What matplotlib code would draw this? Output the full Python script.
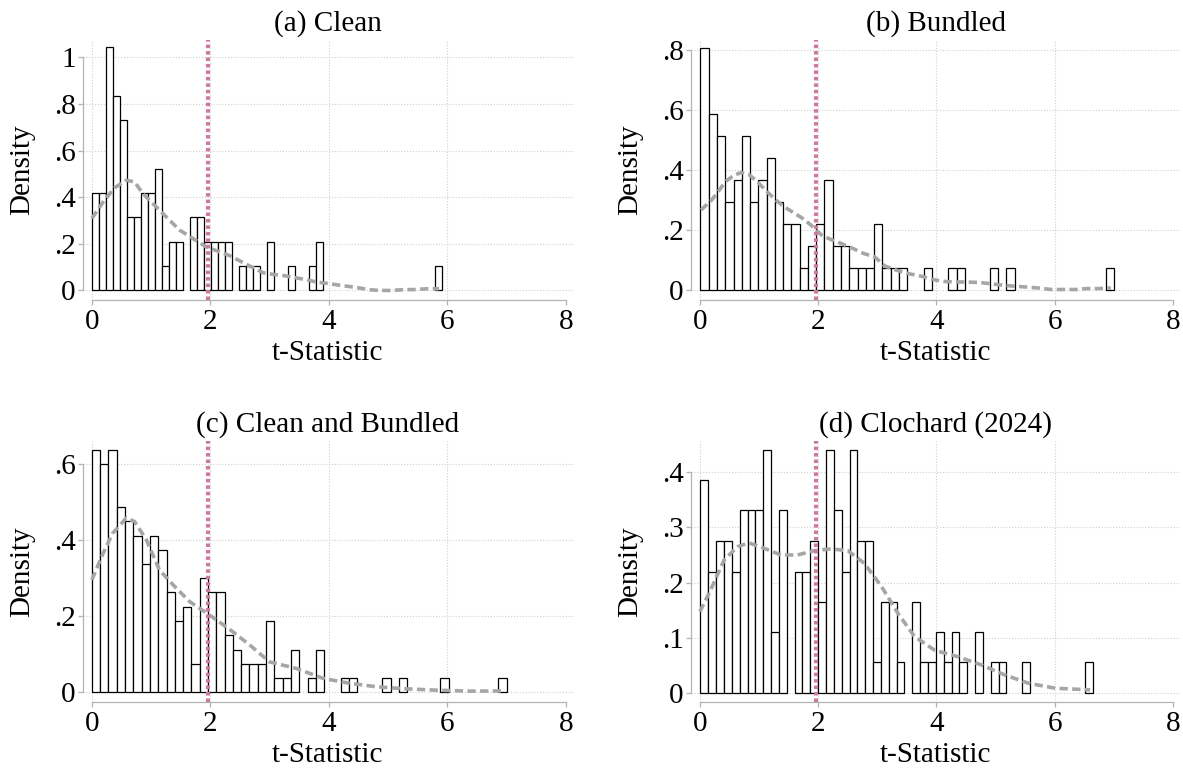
import numpy as np
import matplotlib
matplotlib.use("Agg")
import matplotlib.pyplot as plt

plt.rcParams['font.family'] = ['Liberation Serif', 'DejaVu Serif']

# ---------------- data ----------------
titles = ["(a) Clean", "(b) Bundled", "(c) Clean and Bundled", "(d) Clochard (2024)"]
xlabel = "t-Statistic"
ylabel = "Density"
xticks = [0, 2, 4, 6, 8]
critical_t = 1.96

# histogram: first bin edge, bin width, densities per bin
start_a, width_a = 0.0, 0.1181
dens_a = [0.418, 0.418, 1.045, 0.836, 0.732, 0.314, 0.314, 0.418, 0.418, 0.523,
          0.105, 0.209, 0.209, 0.0, 0.314, 0.314, 0.209, 0.209, 0.209, 0.209,
          0.0, 0.105, 0.105, 0.105, 0.0, 0.209, 0.0, 0.0, 0.105, 0.0,
          0.0, 0.105, 0.209, 0.0, 0.0, 0.0, 0.0, 0.0, 0.0, 0.0,
          0.0, 0.0, 0.0, 0.0, 0.0, 0.0, 0.0, 0.0, 0.0, 0.105]

start_b, width_b = 0.01, 0.1398
dens_b = [0.809, 0.588, 0.515, 0.294, 0.368, 0.515, 0.294, 0.368, 0.441, 0.294,
          0.221, 0.221, 0.074, 0.147, 0.221, 0.368, 0.147, 0.147, 0.074, 0.074,
          0.074, 0.221, 0.074, 0.074, 0.074, 0.0, 0.0, 0.074, 0.0, 0.0,
          0.074, 0.074, 0.0, 0.0, 0.0, 0.074, 0.0, 0.074, 0.0, 0.0,
          0.0, 0.0, 0.0, 0.0, 0.0, 0.0, 0.0, 0.0, 0.0, 0.074]

start_c, width_c = 0.0, 0.14
dens_c = [0.636, 0.598, 0.636, 0.486, 0.449, 0.411, 0.337, 0.411, 0.374, 0.262,
          0.187, 0.224, 0.075, 0.299, 0.262, 0.262, 0.150, 0.112, 0.075, 0.075,
          0.075, 0.187, 0.037, 0.037, 0.112, 0.0, 0.037, 0.112, 0.0, 0.0,
          0.037, 0.037, 0.0, 0.0, 0.0, 0.037, 0.0, 0.037, 0.0, 0.0,
          0.0, 0.0, 0.037, 0.0, 0.0, 0.0, 0.0, 0.0, 0.0, 0.037]

start_d, width_d = 0.01, 0.1327
dens_d = [0.386, 0.220, 0.276, 0.276, 0.220, 0.331, 0.331, 0.331, 0.441, 0.110,
          0.331, 0.0, 0.220, 0.220, 0.276, 0.165, 0.441, 0.331, 0.220, 0.441,
          0.276, 0.276, 0.055, 0.165, 0.165, 0.055, 0.0, 0.165, 0.055, 0.055,
          0.110, 0.055, 0.110, 0.055, 0.0, 0.110, 0.0, 0.055, 0.055, 0.0,
          0.0, 0.055, 0.0, 0.0, 0.0, 0.0, 0.0, 0.0, 0.0, 0.055]

# kernel density curves
kde_a_x = [0.0, 0.19, 0.38, 0.58, 0.72, 0.86, 1.14, 1.48, 1.93, 2.32, 2.67, 2.89, 3.06,
           3.23, 3.45, 3.62, 3.79, 4.01, 4.22, 4.43, 4.69, 4.87, 5.03, 5.25, 5.45, 5.64, 5.86]
kde_a_y = [0.309, 0.38, 0.44, 0.473, 0.466, 0.416, 0.345, 0.259, 0.187, 0.150, 0.104, 0.076,
           0.069, 0.064, 0.054, 0.046, 0.036, 0.029, 0.021, 0.014, 0.003, 0.0, 0.0, 0.003,
           0.004, 0.007, 0.007]

kde_b_x = [0.02, 0.19, 0.30, 0.43, 0.58, 0.71, 0.83, 0.97, 1.11, 1.25, 1.42, 1.56, 1.73,
           1.87, 2.06, 2.21, 2.38, 2.55, 2.77, 2.96, 3.13, 3.33, 3.52, 3.73, 3.92, 4.12,
           4.31, 4.51, 4.74, 4.93, 5.13, 5.32, 5.53, 5.72, 5.94, 6.15, 6.37, 6.54, 6.73, 6.95]
kde_b_y = [0.268, 0.299, 0.326, 0.362, 0.384, 0.393, 0.386, 0.362, 0.334, 0.307, 0.279,
           0.262, 0.241, 0.219, 0.184, 0.170, 0.157, 0.143, 0.123, 0.111, 0.081, 0.067,
           0.056, 0.048, 0.037, 0.030, 0.028, 0.028, 0.026, 0.022, 0.017, 0.014, 0.011,
           0.008, 0.003, 0.003, 0.003, 0.006, 0.006, 0.008]

kde_c_x = [0.0, 0.19, 0.35, 0.58, 0.72, 0.92, 1.14, 1.37, 1.65, 1.985, 2.32, 2.66, 3.0,
           3.45, 3.9, 4.35, 4.80, 5.25, 5.81, 6.37, 6.93]
kde_c_y = [0.295, 0.365, 0.417, 0.457, 0.448, 0.40, 0.321, 0.282, 0.238, 0.203, 0.166,
           0.125, 0.08, 0.063, 0.037, 0.024, 0.015, 0.010, 0.006, 0.0035, 0.004]

kde_d_x = [0.0, 0.18, 0.41, 0.635, 0.83, 1.09, 1.37, 1.65, 1.94, 2.22, 2.5, 2.78, 3.07,
           3.35, 3.63, 3.97, 4.37, 4.77, 5.16, 5.56, 6.01, 6.6]
kde_d_y = [0.147, 0.186, 0.241, 0.265, 0.272, 0.262, 0.25, 0.25, 0.258, 0.261, 0.258,
           0.235, 0.193, 0.144, 0.102, 0.077, 0.065, 0.05, 0.032, 0.017, 0.008, 0.005]

yticks_a = [0, 0.2, 0.4, 0.6, 0.8, 1.0]
ylabels_a = ["0", ".2", ".4", ".6", ".8", "1"]
yticks_b = [0, 0.2, 0.4, 0.6, 0.8]
ylabels_b = ["0", ".2", ".4", ".6", ".8"]
yticks_c = [0, 0.2, 0.4, 0.6]
ylabels_c = ["0", ".2", ".4", ".6"]
yticks_d = [0, 0.1, 0.2, 0.3, 0.4]
ylabels_d = ["0", ".1", ".2", ".3", ".4"]

# ---------------- style ----------------
W, H = 1183, 772
FS = 21
AXIS_GRAY = '#b3b3b3'
GRID_GRAY = '#cfcfcf'
KDE_GRAY = '#a6a6a6'
PINK = '#cc79a7'

fig = plt.figure(figsize=(W / 100, H / 100), dpi=100)

def px_axes(left, top, right, bottom):
    return fig.add_axes([left / W, 1 - bottom / H, (right - left) / W, (bottom - top) / H])

panels = [
    dict(rect=(83, 40, 573, 300), start=start_a, width=width_a, dens=dens_a,
         kx=kde_a_x, ky=kde_a_y, yt=yticks_a, yl=ylabels_a, ylim=(-0.041, 1.075)),
    dict(rect=(691, 40, 1180, 300), start=start_b, width=width_b, dens=dens_b,
         kx=kde_b_x, ky=kde_b_y, yt=yticks_b, yl=ylabels_b, ylim=(-0.032, 0.834)),
    dict(rect=(83, 441, 573, 702), start=start_c, width=width_c, dens=dens_c,
         kx=kde_c_x, ky=kde_c_y, yt=yticks_c, yl=ylabels_c, ylim=(-0.025, 0.659)),
    dict(rect=(691, 441, 1180, 702), start=start_d, width=width_d, dens=dens_d,
         kx=kde_d_x, ky=kde_d_y, yt=yticks_d, yl=ylabels_d, ylim=(-0.017, 0.457)),
]

for title, p in zip(titles, panels):
    ax = px_axes(*p['rect'])
    dens = np.array(p['dens'])
    edges = p['start'] + p['width'] * np.arange(len(dens))
    mask = dens > 0
    ax.bar(edges[mask], dens[mask], width=p['width'], align='edge',
           facecolor='white', edgecolor='black', linewidth=0.9, zorder=2)
    ax.plot(p['kx'], p['ky'], color=KDE_GRAY, linewidth=2.6,
            linestyle=(0, (2.3, 1.2)), zorder=3)
    ax.axvline(critical_t, color=PINK, linewidth=3.0,
               linestyle=(0, (0.85, 0.7)), zorder=4)

    ax.set_xlim(-0.15, 8.12)
    ax.set_ylim(*p['ylim'])
    ax.set_xticks(xticks)
    ax.set_xticklabels([str(v) for v in xticks])
    ax.set_yticks(p['yt'])
    ax.set_yticklabels(p['yl'])

    # grid
    ax.yaxis.grid(True, color=GRID_GRAY, linestyle=(0, (1, 1.6)), linewidth=0.8, zorder=0.5)
    for v in xticks[:-1]:
        ax.axvline(v, color=GRID_GRAY, linestyle=(0, (1, 1.6)), linewidth=0.8, zorder=0.5)
    ax.set_axisbelow(True)

    for s in ['top', 'right']:
        ax.spines[s].set_visible(False)
    for s in ['left', 'bottom']:
        ax.spines[s].set_color(AXIS_GRAY)
        ax.spines[s].set_linewidth(0.9)
    ax.spines['left'].set_bounds(p['yt'][0], p['yt'][-1])
    ax.spines['bottom'].set_bounds(xticks[0], xticks[-1])
    ax.tick_params(axis='both', direction='out', length=3.8, width=0.9,
                   color=AXIS_GRAY, labelsize=FS, labelcolor='black')
    ax.tick_params(axis='x', pad=2.5)
    ax.tick_params(axis='y', pad=1.5)

    ax.set_title(title, fontsize=FS, pad=6.5)
    ax.set_xlabel(xlabel, fontsize=FS)
    ax.set_ylabel(ylabel, fontsize=FS)
    ax.xaxis.set_label_coords(0.5, -0.155)
    ax.yaxis.set_label_coords(-0.097, 0.5)

fig.savefig("out.png", dpi=100, facecolor='white')
